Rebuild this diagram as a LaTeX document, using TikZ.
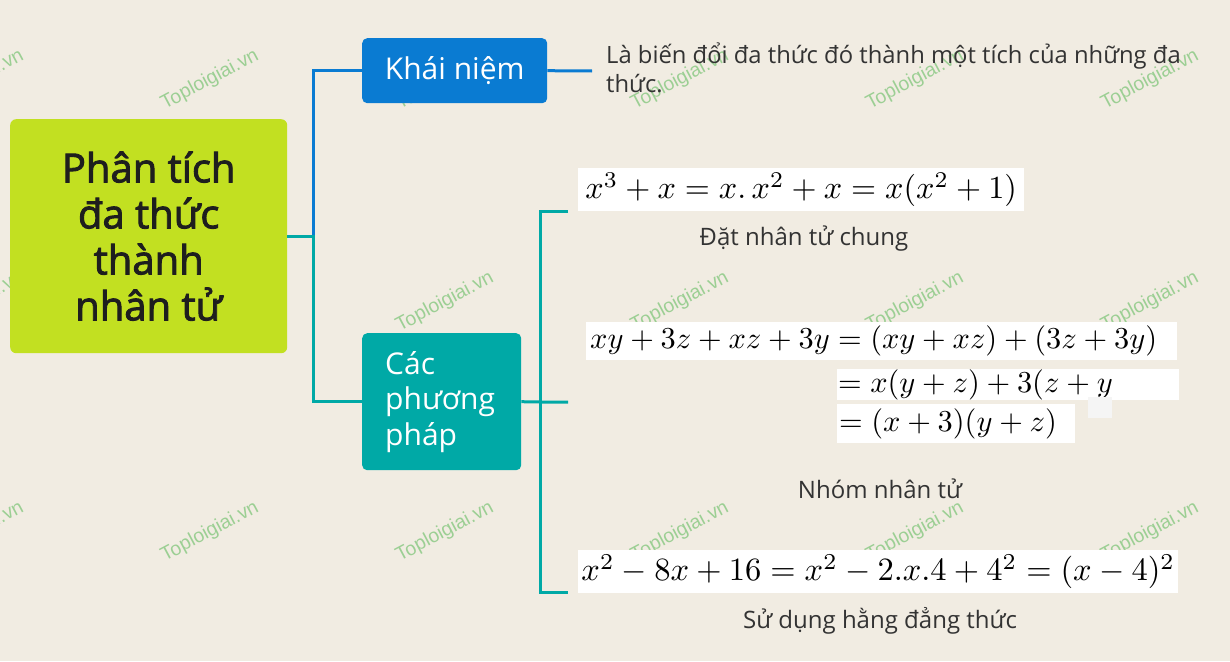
\documentclass[tikz,border=0pt]{standalone}
\usepackage[no-math]{fontspec}
\setmainfont{Open Sans}
\newfontfamily\titlefont[FakeBold=2.2]{Open Sans}
\newfontfamily\markfont{Liberation Sans}
\usetikzlibrary{positioning}

\definecolor{paper}{HTML}{F1ECE2}
\definecolor{rootgreen}{HTML}{C2E021}
\definecolor{conceptblue}{HTML}{0A7BD2}
\definecolor{methodteal}{HTML}{00A9A6}
\definecolor{inkdark}{HTML}{1E1E1E}
\definecolor{inkgray}{HTML}{333333}
\definecolor{markgreen}{HTML}{9CCF94}

\newcommand{\bigmath}[2][3.22]{\scalebox{#1}{$#2$}}

\tikzset{
  rootbox/.style={fill=rootgreen, rounded corners=6pt, inner sep=0pt,
    minimum width=277pt, minimum height=234pt, align=center, text=inkdark,
    font=\titlefont\fontsize{40}{46}\selectfont},
  branchbox/.style={rounded corners=5pt, inner sep=0pt, text=white,
    font=\fontsize{30}{35.5}\selectfont},
  mathbox/.style={fill=white, inner sep=0pt},
  caption/.style={text=inkgray, font=\fontsize{24}{28}\selectfont},
  blueline/.style={draw=conceptblue, line width=3pt},
  tealline/.style={draw=methodteal, line width=3pt},
  wmark/.style={rotate=28, text=markgreen, font=\markfont\fontsize{19.5}{19.5}\selectfont},
}

\begin{document}
\begin{tikzpicture}[x=1pt,y=-1pt]
  % Paper background
  \fill[paper] (0,0) rectangle (1230,661);
  \useasboundingbox (0,0) rectangle (1230,661);

  % Watermarks
  \foreach \wx in {-25,210,445,680,915,1150}
    \foreach \wy in {80,302,532}
      \node[wmark] at (\wx,\wy) {Toploigiai.vn};

  % Main topic and branches
  \node[rootbox, anchor=north west] (root) at (10,119)
    {Phân tích\\đa thức\\thành\\nhân tử};
  \node[branchbox, fill=conceptblue, anchor=north west,
    minimum width=185pt, minimum height=65pt] (concept) at (362,38) {Khái niệm};
  \node[branchbox, fill=methodteal, anchor=north west, align=left,
    text width=113pt, inner xsep=23pt, minimum height=137pt] (methods) at (362,333)
    {Các\\phương\\pháp};

  % Definition text
  \node[anchor=north west, inner sep=0pt, align=left, text=inkgray,
    font=\fontsize{23.8}{29}\selectfont] (defn) at (606,43)
    {Là biến đổi đa thức đó thành một tích của những đa\\thức.};

  % Formulas
  \node[mathbox, anchor=north west, minimum width=446pt, minimum height=43pt]
    (f1) at (578,168) {\bigmath{x^3+x=x.\,x^2+x=x(x^2+1)}};
  \node[caption] (c1) at (804,239) {Đặt nhân tử chung};

  \node[mathbox, anchor=north west, minimum height=38pt, text width=583pt,
    inner xsep=4pt, align=left] (f2a) at (586,322)
    {\bigmath[3.04]{xy+3z+xz+3y=(xy+xz)+(3z+3y)}};
  \node[mathbox, anchor=north west, minimum height=28pt, text width=340pt,
    inner xsep=1pt, align=left] (f2b) at (837,369)
    {\bigmath[3.04]{=x(y+z)+3(z+y}};
  \fill[black!4] (1088,397) rectangle (1112,418);
  \node[mathbox, anchor=north west, minimum height=39pt, text width=234pt,
    inner xsep=2pt, align=left] (f2c) at (837,404)
    {\bigmath[3.04]{=(x+3)(y+z)}};
  \node[caption] (c2) at (880,489) {Nhóm nhân tử};

  \node[mathbox, anchor=north west, minimum width=600pt, minimum height=43pt]
    (f3) at (578,550) {\bigmath[3.25]{x^2-8x+16=x^2-2.x.4+4^2=(x-4)^2}};
  \node[caption] (c3) at (880,621) {Sử dụng hằng đẳng thức};

  % Connectors
  \coordinate (jA) at (313,236);
  \coordinate (jB) at (540,402);
  \coordinate (cEnd) at (592,71);
  \coordinate (b1) at (568,211);
  \coordinate (b2) at (568,402);
  \coordinate (b3) at (568,592);
  \draw[blueline] (jA) |- (concept.west);
  \draw[blueline] (concept.east) -- (cEnd);
  \draw[tealline] (root.east |- jA) -- (jA) |- (methods.west);
  \draw[tealline] (methods.east) -- (jB) -- (b2);
  \draw[tealline] (b1) -- (b1 -| jB) -- (b3 -| jB) -- (b3);
\end{tikzpicture}
\end{document}
